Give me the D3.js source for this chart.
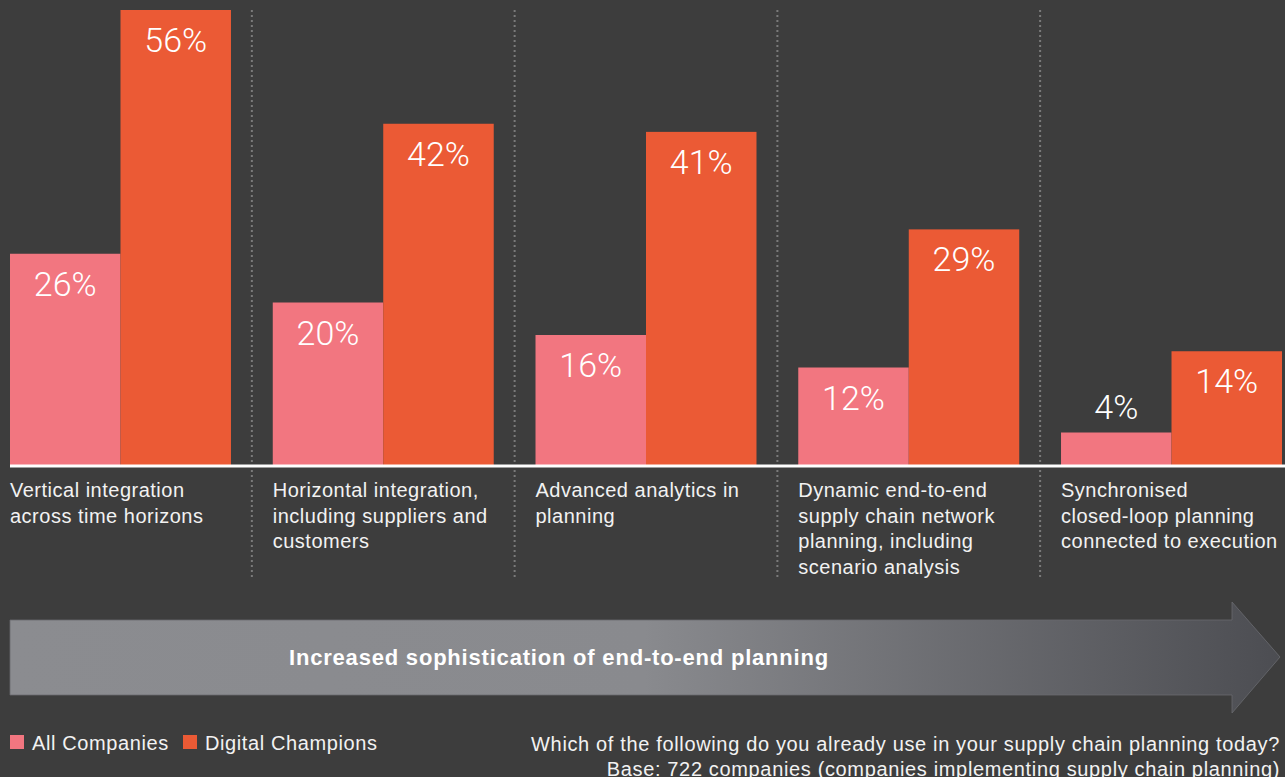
<!DOCTYPE html>
<html>
<head>
<meta charset="utf-8">
<script src="https://cdn.jsdelivr.net/npm/d3@7"></script>
<style>
  html, body { margin: 0; padding: 0; background: #3d3d3d; }
  #box { width: 1285px; height: 777px; }
  text { font-family: "Liberation Sans", Arial, Helvetica, sans-serif; }
</style>
</head>
<body>
<div id="box"></div>
<script>
// data
const categories = [
  ['Vertical integration', 'across time horizons'],
  ['Horizontal integration,', 'including suppliers and', 'customers'],
  ['Advanced analytics in', 'planning'],
  ['Dynamic end-to-end', 'supply chain network', 'planning, including', 'scenario analysis'],
  ['Synchronised', 'closed-loop planning', 'connected to execution']
];
const seriesNames = ['All Companies', 'Digital Champions'];
const allCompanies = [26, 20, 16, 12, 4];
const digitalChampions = [56, 42, 41, 29, 14];
const colors = ['#f27680', '#eb5a35'];

const width = 1285, height = 777;
const baseY = 465;

const svg = d3.select('#box').append('svg')
  .attr('width', width)
  .attr('height', height)
  .style('background', '#3d3d3d');

// scales
const x0 = d3.scaleBand()
  .domain(d3.range(categories.length))
  .range([10, 1282])
  .paddingInner(0.159)
  .paddingOuter(0);

const x1 = d3.scaleBand()
  .domain([0, 1])
  .range([0, x0.bandwidth()]);

const y = d3.scaleLinear()
  .domain([0, 56])
  .range([baseY, 10]);

// dotted separators
const seps = d3.range(1, categories.length);
const sepX = i => (x0(i - 1) + x0.bandwidth() + x0(i)) / 2;
svg.selectAll('.sep').data(seps)
  .join('line')
  .attr('class', 'sep')
  .attr('x1', sepX)
  .attr('x2', sepX)
  .attr('y1', 10)
  .attr('y2', 580)
  .style('stroke', '#7a7a7a')
  .style('stroke-width', 2)
  .style('stroke-dasharray', '2,3');

// bars
const rows = categories.map((c, i) => [
  { g: i, s: 0, v: allCompanies[i] },
  { g: i, s: 1, v: digitalChampions[i] }
]).flat();

svg.selectAll('.bar').data(rows)
  .join('rect')
  .attr('class', 'bar')
  .attr('x', d => x0(d.g) + x1(d.s))
  .attr('y', d => y(d.v))
  .attr('width', x1.bandwidth())
  .attr('height', d => baseY - y(d.v))
  .style('fill', d => colors[d.s]);

svg.selectAll('.val').data(rows)
  .join('text')
  .attr('class', 'val')
  .attr('x', d => x0(d.g) + x1(d.s) + x1.bandwidth() / 2)
  .attr('y', d => (baseY - y(d.v)) < 60 ? y(d.v) - 14 : y(d.v) + 42)
  .attr('text-anchor', 'middle')
  .text(d => d.v + '%')
  .style('fill', '#ffffff')
  .style('font-family', 'Roboto, "Liberation Sans", sans-serif')
  .style('font-weight', 300)
  .style('font-size', '34px');

// baseline
svg.append('line')
  .attr('x1', 10).attr('x2', width)
  .attr('y1', baseY + 1).attr('y2', baseY + 1)
  .style('stroke', '#ffffff')
  .style('stroke-width', 3);

// category labels
const lab = svg.selectAll('.lab').data(categories)
  .join('text')
  .attr('class', 'lab')
  .attr('x', (d, i) => x0(i))
  .attr('y', 497)
  .style('fill', '#f2f2f2')
  .style('font-size', '20px')
  .style('letter-spacing', '0.5px');
lab.selectAll('tspan').data(d => d)
  .join('tspan')
  .attr('x', function () { return d3.select(this.parentNode).attr('x'); })
  .attr('dy', (d, i) => i === 0 ? 0 : 25.5)
  .text(d => d);

// arrow
const defs = svg.append('defs');
const grad = defs.append('linearGradient').attr('id', 'arrowGrad')
  .attr('x1', '0%').attr('x2', '100%');
grad.append('stop').attr('offset', '0%').attr('stop-color', '#8b8c90');
grad.append('stop').attr('offset', '50%').attr('stop-color', '#898a8e');
grad.append('stop').attr('offset', '100%').attr('stop-color', '#4c4d52');

svg.append('path')
  .attr('d', 'M10,620 L1232,620 L1232,602 L1280,657 L1232,713 L1232,695 L10,695 Z')
  .style('fill', 'url(#arrowGrad)')
  .style('stroke', '#6a6b70')
  .style('stroke-width', 0.8);

svg.append('text')
  .attr('x', 559)
  .attr('y', 665)
  .attr('text-anchor', 'middle')
  .text('Increased sophistication of end-to-end planning')
  .style('fill', '#ffffff')
  .style('font-weight', 'bold')
  .style('font-size', '22px')
  .style('letter-spacing', '0.8px');

// legend
const legX = [10, 183];
const leg = svg.selectAll('.leg').data(seriesNames)
  .join('g')
  .attr('class', 'leg')
  .attr('transform', (d, i) => `translate(${legX[i]},735)`);
leg.append('rect')
  .attr('width', 14).attr('height', 14)
  .style('fill', (d, i) => colors[i]);
leg.append('text')
  .attr('x', 22).attr('y', 15)
  .text(d => d)
  .style('fill', '#f2f2f2')
  .style('font-size', '20px')
  .style('letter-spacing', '0.6px');

// footnote
const notes = [
  'Which of the following do you already use in your supply chain planning today?',
  'Base: 722 companies (companies implementing supply chain planning)'
];
svg.selectAll('.note').data(notes)
  .join('text')
  .attr('class', 'note')
  .attr('x', 1280)
  .attr('y', (d, i) => 751 + i * 25)
  .attr('text-anchor', 'end')
  .text(d => d)
  .style('fill', '#f2f2f2')
  .style('font-size', '20px')
  .style('letter-spacing', '0.65px');
</script>
</body>
</html>
